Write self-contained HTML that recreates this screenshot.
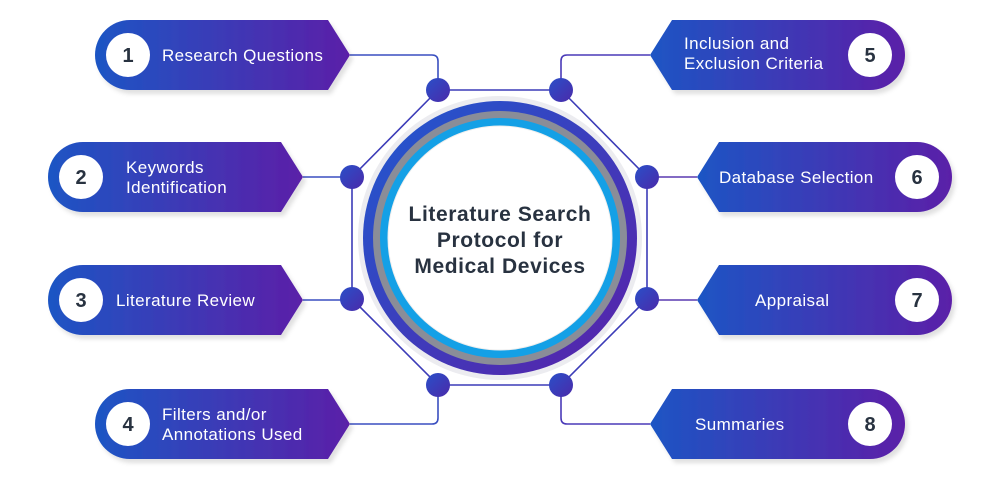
<!DOCTYPE html>
<html><head><meta charset="utf-8"><style>
html,body{margin:0;padding:0;background:#fff;width:1000px;height:483px;overflow:hidden}
text{font-family:"Liberation Sans",sans-serif}
</style></head><body>
<svg width="1000" height="483" viewBox="0 0 1000 483" xmlns="http://www.w3.org/2000/svg">
<defs>
<linearGradient id="pg" x1="0" x2="1" y1="0" y2="0">
<stop offset="0" stop-color="#1d55c4"/><stop offset="1" stop-color="#5b1fa8"/></linearGradient>
<linearGradient id="ng" x1="0" x2="1" y1="0" y2="1">
<stop offset="0" stop-color="#2a4fc8"/><stop offset="1" stop-color="#4a2aaa"/></linearGradient>
<linearGradient id="rg" x1="0" x2="1" y1="0" y2="1">
<stop offset="0" stop-color="#1f5ad0"/><stop offset="1" stop-color="#5a20a8"/></linearGradient>
<filter id="sh" x="-10%" y="-10%" width="130%" height="140%"><feDropShadow dx="3" dy="4" stdDeviation="2" flood-color="#000" flood-opacity="0.12"/></filter>
</defs>
<g fill="none" stroke-width="1.6">
<path d="M350 55 H432 Q438 55 438 61 V90" stroke="#3a4fc0"/>
<path d="M303 177 H352" stroke="#3a4fc0"/>
<path d="M303 300 H352" stroke="#3a4fc0"/>
<path d="M350 424 H432 Q438 424 438 418 V385" stroke="#3a4fc0"/>
<path d="M650 55 H567 Q561 55 561 61 V90" stroke="#4a3ab8"/>
<path d="M697 177 H647" stroke="#5a3ab0"/>
<path d="M697 300 H647" stroke="#5a3ab0"/>
<path d="M650 424 H567 Q561 424 561 418 V385" stroke="#4a3ab8"/>
<path d="M438 90 H561 L647 177 V299 L561 385 H438 L352 299 V177 Z" stroke="#3c3cb8"/>
</g>
<circle cx="500" cy="238" r="142" fill="#ececf0"/>
<circle cx="500" cy="238" r="137" fill="url(#rg)"/>
<circle cx="500" cy="238" r="127" fill="#8a8d98"/>
<circle cx="500" cy="238" r="120" fill="#14a0e6"/>
<circle cx="500" cy="238" r="112" fill="#fff" stroke="#eee" stroke-width="1"/>
<g font-weight="bold" font-size="21" fill="#283240" text-anchor="middle" letter-spacing="0.6">
<text x="500" y="221">Literature Search</text>
<text x="500" y="247">Protocol for</text>
<text x="500" y="273">Medical Devices</text>
</g>
<g fill="url(#ng)">
<circle cx="438" cy="90" r="12"/><circle cx="561" cy="90" r="12"/>
<circle cx="647" cy="177" r="12"/><circle cx="647" cy="299" r="12"/>
<circle cx="561" cy="385" r="12"/><circle cx="438" cy="385" r="12"/>
<circle cx="352" cy="299" r="12"/><circle cx="352" cy="177" r="12"/>
</g>
<g fill="url(#pg)" filter="url(#sh)">
<path d="M130 20 H328 L350 55 L328 90 H130 A35 35 0 0 1 130 20 Z"/>
<path d="M83 142 H281 L303 177 L281 212 H83 A35 35 0 0 1 83 142 Z"/>
<path d="M83 265 H281 L303 300 L281 335 H83 A35 35 0 0 1 83 265 Z"/>
<path d="M130 389 H328 L350 424 L328 459 H130 A35 35 0 0 1 130 389 Z"/>
<path d="M650 55 L672 20 H870 A35 35 0 0 1 870 90 H672 Z"/>
<path d="M697 177 L719 142 H917 A35 35 0 0 1 917 212 H719 Z"/>
<path d="M697 300 L719 265 H917 A35 35 0 0 1 917 335 H719 Z"/>
<path d="M650 424 L672 389 H870 A35 35 0 0 1 870 459 H672 Z"/>
</g>
<g fill="#fff">
<circle cx="128" cy="55" r="22"/><circle cx="81" cy="177" r="22"/>
<circle cx="81" cy="300" r="22"/><circle cx="128" cy="424" r="22"/>
<circle cx="870" cy="55" r="22"/><circle cx="917" cy="177" r="22"/>
<circle cx="917" cy="300" r="22"/><circle cx="870" cy="424" r="22"/>
</g>
<g font-weight="bold" font-size="20" fill="#283240" text-anchor="middle">
<text x="128" y="62">1</text><text x="81" y="184">2</text>
<text x="81" y="307">3</text><text x="128" y="431">4</text>
<text x="870" y="62">5</text><text x="917" y="184">6</text>
<text x="917" y="307">7</text><text x="870" y="431">8</text>
</g>
<g font-size="17" fill="#fff" letter-spacing="0.4">
<text x="162" y="61">Research Questions</text>
<text x="126" y="173">Keywords</text><text x="126" y="193">Identification</text>
<text x="116" y="306">Literature Review</text>
<text x="162" y="420">Filters and/or</text><text x="162" y="440">Annotations Used</text>
<text x="684" y="49">Inclusion and</text><text x="684" y="69">Exclusion Criteria</text>
<text x="719" y="183">Database Selection</text>
<text x="755" y="306">Appraisal</text>
<text x="695" y="430">Summaries</text>
</g>
</svg>
</body></html>
